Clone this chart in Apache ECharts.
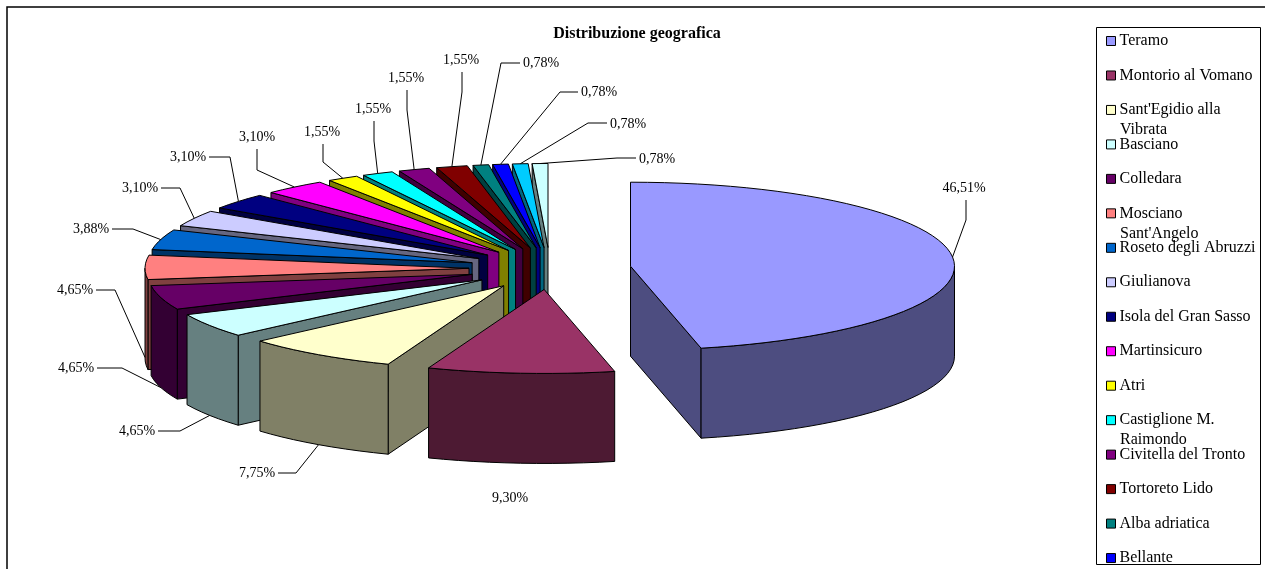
<!DOCTYPE html>
<html>
<head>
<meta charset="utf-8">
<style>html,body{margin:0;padding:0;background:#fff;overflow:hidden}#c{width:1265px;height:569px}</style>
<script src="https://cdn.jsdelivr.net/npm/echarts@6/dist/echarts.min.js"></script>
</head>
<body>
<div id="c"></div>
<script>
const categories = ['Teramo','Montorio al Vomano',"Sant'Egidio alla",'Basciano','Colledara','Mosciano','Roseto degli Abruzzi','Giulianova','Isola del Gran Sasso','Martinsicuro','Atri','Castiglione M.','Civitella del Tronto','Tortoreto Lido','Alba adriatica','Bellante','(voce fuori legenda A)','(voce fuori legenda B)'];
const percentages = [46.51,9.30,7.75,4.65,4.65,4.65,3.88,3.10,3.10,3.10,1.55,1.55,1.55,1.55,0.78,0.78,0.78,0.78];
const colors = ['#9999FF','#993366','#FFFFCC','#CCFFFF','#660066','#FF8080','#0066CC','#CCCCFF','#000080','#FF00FF','#FFFF00','#00FFFF','#800080','#800000','#008080','#0000FF','#00CCFF','#CCFFFF'];
const legendContinuations = [[2,'Vibrata'],[5,"Sant'Angelo"],[11,'Raimondo']];
// label centre and leader elbow for each slice (null: no leader)
const labelCentres = [[964,188],[510,498],[257,473],[137,431],[76,368],[75,290],[91,229],[140,188],[188,157],[257,137],[322,132],[373,109],[406,78],[461,60],[541,63],[599,92],[628,124],[657,159]];
const labelElbows = [[966,220],null,[296,473],[180,431],[122,368],[115,290],[133,229],[180,188],[230,157],[257,170],[323,162],[374,141],[407,110],[462,92],[501,63],[560,92],[588,123],[617,158]];

const PIE = {cx:550, cy:268.5, rx:324, ry:84, depth:90, explode:0.25};
const FONT = '14px "Liberation Serif"';
const total = percentages.reduce((a,b)=>a+b,0);
const slices = [];
let acc = 0;
percentages.forEach((p,i)=>{
  const t0 = acc/total*360; acc += p; const t1 = acc/total*360; const m = (t0+t1)/2;
  const off = polar(m,PIE.explode);
  slices.push({t0,t1,m,cx:PIE.cx+off[0],cy:PIE.cy+off[1]});
});
function polar(t,k){const r=t*Math.PI/180;return [PIE.rx*k*Math.sin(r),-PIE.ry*k*Math.cos(r)];}
function rimPt(s,t,dy){const o=polar(t,1);return [s.cx+o[0],s.cy+o[1]+(dy||0)];}
function arc(s,a,b,dy){const n=Math.max(2,Math.ceil(Math.abs(b-a)/3));const pts=[];for(let k=0;k<=n;k++)pts.push(rimPt(s,a+(b-a)*k/n,dy));return pts;}
function shade(hex){const v=parseInt(hex.slice(1),16);const c=[(v>>16)&255,(v>>8)&255,v&255].map(x=>Math.round(x/2));return 'rgb('+c.join(',')+')';}

function sliceElements(i){
  const s=slices[i],fill=colors[i],dark=shade(fill),d=PIE.depth,out=[];
  const stroke={stroke:'#000',lineWidth:1,lineJoin:'round'};
  const poly=(pts,f)=>out.push({type:'polygon',shape:{points:pts},style:Object.assign({fill:f},stroke)});
  const face=t=>{const a=[s.cx,s.cy],b=rimPt(s,t);poly([a,b,[b[0],b[1]+d],[a[0],a[1]+d]],dark);};
  if(Math.sin(s.t0*Math.PI/180)<0) face(s.t0);
  if(Math.sin(s.t1*Math.PI/180)>0) face(s.t1);
  const a=Math.max(s.t0,90),b=Math.min(s.t1,270);
  if(b>a){poly(arc(s,a,b,0).concat(arc(s,b,a,d)),dark);}
  poly([[s.cx,s.cy]].concat(arc(s,s.t0,s.t1,0)),fill);
  return out;
}
function labelElements(i){
  const s=slices[i],out=[],c=labelCentres[i],e=labelElbows[i];
  if(e){
    const start=rimPt(s,s.m,(s.m>90&&s.m<275)?PIE.depth:0);
    const horizontal=Math.abs(e[1]-c[1])<2;
    const endX=horizontal?(c[0]<e[0]?c[0]+21:c[0]-21):e[0];
    const endY=horizontal?e[1]:c[1]+(e[1]>c[1]?12:-12);
    out.push({type:'polyline',shape:{points:[start,e,[endX,endY]]},style:{fill:'none',stroke:'#000',lineWidth:1}});
  }
  out.push({type:'text',style:{text:percentages[i].toFixed(2).replace('.',',')+'%',x:c[0],y:c[1],align:'center',verticalAlign:'middle',fill:'#000',font:FONT}});
  return out;
}

const paintOrder=[0];
for(let i=categories.length-1;i>=1;i--)paintOrder.push(i);

const series=paintOrder.map(i=>({
  type:'custom',name:categories[i],coordinateSystem:'none',silent:true,z:2,
  itemStyle:{color:colors[i]},
  data:[[percentages[i]]],
  renderItem:()=>({type:'group',children:sliceElements(i)})
}));
series.push({
  type:'custom',name:'etichette',coordinateSystem:'none',silent:true,z:3,
  data:percentages.map((p,i)=>[i,p]),
  renderItem:(params)=>({type:'group',children:labelElements(params.dataIndex)})
});

const chart=echarts.init(document.getElementById('c'),null,{renderer:'canvas'});
const LEG={x:1106,top:33,step:34.47};
chart.setOption({
  animation:false,
  backgroundColor:'#fff',
  title:{text:'Distribuzione geografica',left:637,top:26,textAlign:'center',textStyle:{fontFamily:'Liberation Serif',fontWeight:'bold',fontSize:16,color:'#000'},padding:0},
  legend:{
    type:'plain',orient:'vertical',left:LEG.x,top:LEG.top,height:900,width:160,padding:0,
    data:categories.slice(0,16),selectedMode:false,icon:'rect',itemWidth:9,itemHeight:9,itemGap:LEG.step-16,
    itemStyle:{borderColor:'#000',borderWidth:1},
    textStyle:{fontFamily:'Liberation Serif',fontSize:16,color:'#000',padding:[0,0,0,-1],height:15,lineHeight:15}
  },
  graphic:[
    {type:'rect',z:0,silent:true,shape:{x:7,y:7,width:1300,height:620},style:{fill:'none',stroke:'#000',lineWidth:1.5}},
    {type:'rect',z:0,silent:true,shape:{x:1096.5,y:27.5,width:164,height:537},style:{fill:'none',stroke:'#000',lineWidth:1}}
  ].concat(legendContinuations.map(([i,t])=>({
    type:'text',z:5,silent:true,style:{text:t,x:1120,y:LEG.top+8+LEG.step*i+20,verticalAlign:'middle',fill:'#000',font:'16px "Liberation Serif"'}
  }))),
  series
});
</script>
</body>
</html>
